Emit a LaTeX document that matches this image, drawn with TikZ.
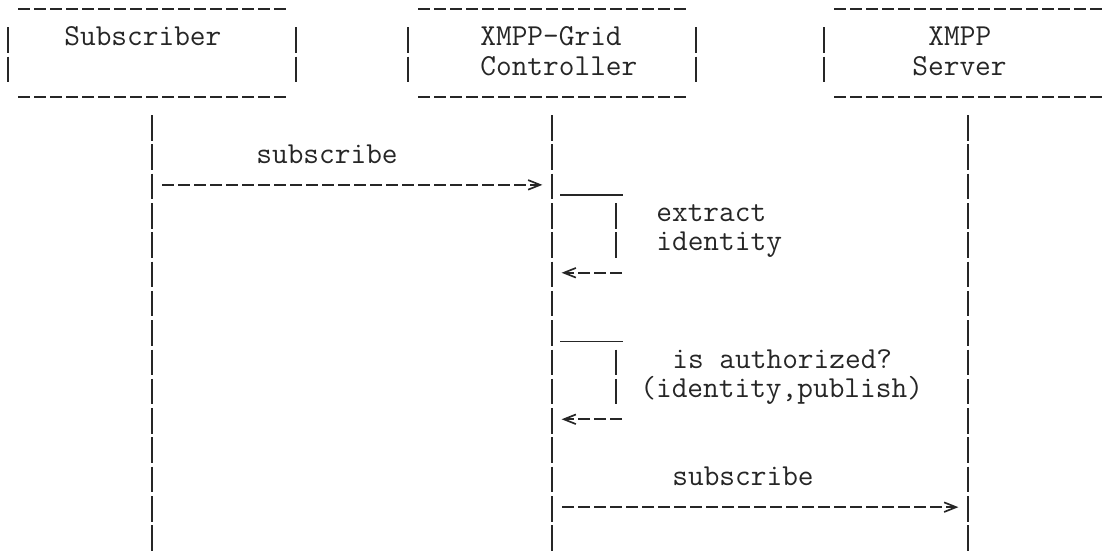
\documentclass[tikz,border=0pt]{standalone}
\usepackage{fontspec}
\usetikzlibrary{arrows.meta,positioning}
\definecolor{asciiInk}{HTML}{262626}
\newcommand{\asciifont}{\fontsize{15.24}{14.65}\selectfont\ttfamily}
\tikzset{
  >={Straight Barb[length=6pt,width=4.8pt]},
  lbl/.style={font=\asciifont, text=asciiInk, inner sep=0pt, anchor=base west},
  hline/.style={draw=asciiInk, line width=0.85pt, dash pattern=on 6pt off 2pt},
  vline/.style={draw=asciiInk, line width=0.85pt, dash pattern=on 12.75pt off 1.9pt},
  uline/.style={draw=asciiInk, line width=0.85pt},
  msg/.style={hline, ->},
}

\begin{document}
\begin{tikzpicture}[x=8pt,y=-14.65pt]
  \clip (0,0) rectangle (69.3125,18.84);
  % participant boxes
  \draw[hline](1.125,0.31)--(17.875,0.31);\draw[hline](1.125,3.31)--(17.875,3.31);
  \draw[vline](0.5,0.93)--(0.5,2.80);\draw[vline](18.5,0.93)--(18.5,2.80);
  \draw[hline](26.125,0.31)--(42.875,0.31);\draw[hline](26.125,3.31)--(42.875,3.31);
  \draw[vline](25.5,0.93)--(25.5,2.80);\draw[vline](43.5,0.93)--(43.5,2.80);
  \draw[hline](52.125,0.31)--(68.875,0.31);\draw[hline](52.125,3.31)--(68.875,3.31);
  \draw[vline](51.5,0.93)--(51.5,2.80);\draw[vline](69.5,0.93)--(69.5,2.80);
  \node[lbl] (subscriber) at (4,1.565){Subscriber};
  \node[lbl] (grid) at (30,1.565){XMPP-Grid};
  \node[lbl] (controller) at (30,2.565){Controller};
  \node[lbl] (xmpp) at (58,1.565){XMPP};
  \node[lbl] (server) at (57,2.565){Server};
  % lifelines
  \coordinate (subTop) at (9.5,3.93);\coordinate (subEnd) at (9.5,18.80);
  \coordinate (ctlTop) at (34.5,3.93);\coordinate (ctlEnd) at (34.5,18.80);
  \coordinate (srvTop) at (60.5,3.93);\coordinate (srvEnd) at (60.5,18.80);
  \draw[vline](subTop)--(subEnd);\draw[vline](ctlTop)--(ctlEnd);\draw[vline](srvTop)--(srvEnd);
  % subscribe to controller
  \coordinate (req) at (10.125,6.31);\coordinate (reqEnd) at (33.9,6.31);
  \node[lbl] (reqLbl) at (16,5.565){subscribe};
  \draw[msg](req)--(reqEnd);
  % extract identity
  \coordinate (ext) at (35,6.655);\coordinate (extTurn) at (38.94,6.655);
  \coordinate (extBack) at (38.875,9.31);\coordinate (extEnd) at (35.1,9.31);
  \draw[uline](ext)--(extTurn);\draw[vline](38.5,6.93)--(38.5,8.80);
  \draw[msg](extBack)--(extEnd);
  \node[lbl] (extLbl) at (41,7.565){extract};
  \node[lbl] (extLbl2) at (41,8.565){identity};
  % authorization check
  \coordinate (auth) at (35,11.655);\coordinate (authTurn) at (38.94,11.655);
  \coordinate (authBack) at (38.875,14.31);\coordinate (authEnd) at (35.1,14.31);
  \draw[uline](auth)--(authTurn);\draw[vline](38.5,11.93)--(38.5,13.80);
  \draw[msg](authBack)--(authEnd);
  \node[lbl] (authLbl) at (42,12.565){is authorized?};
  \node[lbl] (authLbl2) at (40,13.565){(identity,publish)};
  % subscribe to server
  \coordinate (fwd) at (35.125,17.31);\coordinate (fwdEnd) at (59.9,17.31);
  \node[lbl] (fwdLbl) at (42,16.565){subscribe};
  \draw[msg](fwd)--(fwdEnd);
\end{tikzpicture}
\end{document}
